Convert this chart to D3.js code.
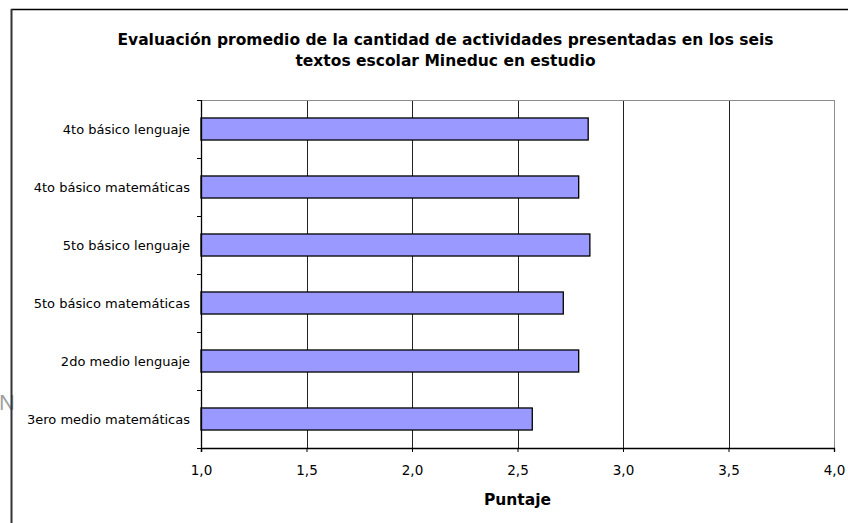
<!DOCTYPE html>
<html><head><meta charset="utf-8">
<script src="https://cdn.jsdelivr.net/npm/d3@7"></script>
<style>body{margin:0;background:#fff}svg{display:block}</style>
</head><body><svg id="c" width="848" height="523"></svg>
<script>
const categories = ["4to básico lenguaje","4to básico matemáticas","5to básico lenguaje","5to básico matemáticas","2do medio lenguaje","3ero medio matemáticas"];
const values = [2.835, 2.79, 2.843, 2.717, 2.79, 2.57];
const xTicks = [1.0, 1.5, 2.0, 2.5, 3.0, 3.5, 4.0];
const titleLines = ["Evaluación promedio de la cantidad de actividades presentadas en los seis","textos escolar Mineduc en estudio"];
const xTitle = "Puntaje";

const svg = d3.select("#c");
const font = "'DejaVu Sans', Verdana, sans-serif";
const m = {left:201, right:834, top:100, bottom:448};

// stray letter at left edge
svg.append("text").attr("x",-1).attr("y",410).attr("font-family","'Liberation Sans', Arial, sans-serif")
  .attr("font-size",22).attr("fill","#a0a0a0").text("N");

// frame
svg.append("line").attr("x1",11).attr("x2",848).attr("y1",9.5).attr("y2",9.5).attr("stroke","#000").attr("stroke-width",1.5);
svg.append("line").attr("x1",11.5).attr("x2",11.5).attr("y1",9).attr("y2",523).attr("stroke","#333").attr("stroke-width",2);

const x = d3.scaleLinear().domain([1,4]).range([m.left,m.right]);
const y = d3.scaleBand().domain(categories).range([m.top,m.bottom]).paddingInner(0.62).paddingOuter(0.31);

// gridlines
svg.append("g").selectAll("line").data(xTicks.slice(1)).join("line")
  .attr("x1",d=>Math.round(x(d))+0.5).attr("x2",d=>Math.round(x(d))+0.5)
  .attr("y1",m.top).attr("y2",m.bottom)
  .attr("stroke",(d,i)=> i===xTicks.length-2 ? "#8c8c8c" : "#222").attr("stroke-width",1);
// top border of plot
svg.append("line").attr("x1",m.left).attr("x2",m.right+1).attr("y1",m.top+0.5).attr("y2",m.top+0.5).attr("stroke","#8c8c8c");

// bars
svg.append("g").selectAll("rect").data(values).join("rect")
  .attr("x",x(1)).attr("y",(d,i)=>y(categories[i]))
  .attr("width",d=>x(d)-x(1)).attr("height",y.bandwidth())
  .attr("fill","#9999ff").attr("stroke","#000").attr("stroke-width",1.3);

// x axis
const xa = svg.append("g").attr("transform",`translate(0,${m.bottom})`)
  .call(d3.axisBottom(x).tickValues(xTicks).tickSize(4).tickPadding(13).tickFormat(d=>d3.format(".1f")(d).replace(".",",")));
xa.select(".domain").attr("stroke","#000").attr("stroke-width",1.3);
xa.selectAll(".tick line").attr("stroke","#000");
xa.selectAll("text").attr("font-family",font).attr("font-size",13.5).attr("fill","#000");

// y axis (ticks at band boundaries)
const bounds = d3.range(categories.length+1).map(i=>m.top + i*(m.bottom-m.top)/categories.length);
svg.append("line").attr("x1",m.left+0.5).attr("x2",m.left+0.5).attr("y1",m.top).attr("y2",m.bottom+4).attr("stroke","#000").attr("stroke-width",1.3);
svg.append("g").selectAll("line").data(bounds).join("line")
  .attr("x1",m.left-4).attr("x2",m.left).attr("y1",d=>Math.round(d)+0.5).attr("y2",d=>Math.round(d)+0.5).attr("stroke","#000");
svg.append("g").selectAll("text").data(categories).join("text")
  .attr("x",190).attr("y",d=>y(d)+y.bandwidth()/2).attr("dy","0.36em")
  .attr("text-anchor","end").attr("font-family",font).attr("font-size",13).attr("fill","#000").text(d=>d);

// titles
svg.append("g").selectAll("text").data(titleLines).join("text")
  .attr("x",445.5).attr("y",(d,i)=>45+i*21).attr("text-anchor","middle")
  .attr("font-family",font).attr("font-weight","bold").attr("font-size",15.5).attr("fill","#000").text(d=>d);
svg.append("text").attr("x",(m.left+m.right)/2).attr("y",505).attr("text-anchor","middle")
  .attr("font-family",font).attr("font-weight","bold").attr("font-size",15.5).attr("fill","#000").text(xTitle);
</script></body></html>
